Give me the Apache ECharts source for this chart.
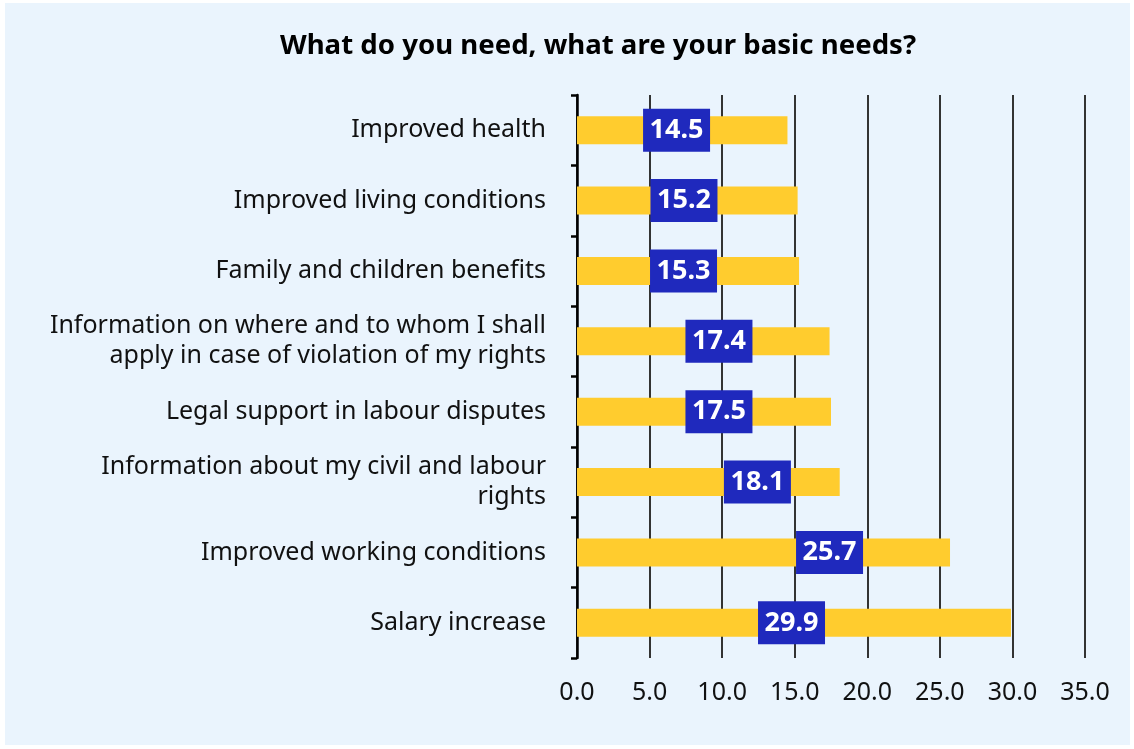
<!DOCTYPE html>
<html>
<head>
<meta charset="utf-8">
<script src="https://cdn.jsdelivr.net/npm/echarts@6/dist/echarts.min.js"></script>
<style>
  html, body { margin: 0; padding: 0; background: #ffffff; }
  #chart { position: absolute; left: 5px; top: 3px; width: 1125px; height: 742px; background: #EAF4FD; }
</style>
</head>
<body>
<div id="chart"></div>
<script>
// Survey answers, top to bottom
const categories = [
  'Improved health',
  'Improved living conditions',
  'Family and children benefits',
  'Information on where and to whom I shall\napply in case of violation of my rights',
  'Legal support in labour disputes',
  'Information about my civil and labour\nrights',
  'Improved working conditions',
  'Salary increase'
];
// Share of respondents, %
const values = [14.5, 15.2, 15.3, 17.4, 17.5, 18.1, 25.7, 29.9];
// Where each value badge sits along the axis (in % units)
const labelAt = [6.86, 7.37, 7.34, 9.78, 9.78, 12.43, 17.4, 14.78];
// Axis ticks
const xTicks = [0, 5, 10, 15, 20, 25, 30, 35];

const chart = echarts.init(document.getElementById('chart'));
const FONT = '"Noto Sans", "Open Sans", sans-serif';

chart.setOption({
  backgroundColor: 'transparent',
  animation: false,
  title: {
    text: 'What do you need, what are your basic needs?',
    left: 270,
    top: 24,
    textStyle: { fontFamily: FONT, fontSize: 27.6, fontWeight: 'bold', color: '#000000' }
  },
  grid: { left: 572, top: 92, width: 508, height: 563, containLabel: false },
  xAxis: {
    type: 'value',
    min: xTicks[0],
    max: xTicks[xTicks.length - 1],
    interval: 5,
    axisLine: { show: false },
    axisTick: { show: false },
    splitLine: { show: true, lineStyle: { color: '#333333', width: 2 } },
    axisLabel: {
      margin: 22,
      fontFamily: FONT,
      fontSize: 25,
      color: '#111111',
      formatter: v => v.toFixed(1)
    }
  },
  yAxis: {
    type: 'category',
    data: categories,
    inverse: true,
    axisLine: { show: true, lineStyle: { color: '#000000', width: 2.5 } },
    axisTick: { show: true, length: 6, lineStyle: { color: '#000000', width: 2.5 } },
    axisLabel: {
      margin: 31,
      fontFamily: FONT,
      fontSize: 25,
      lineHeight: 30,
      color: '#111111',
      align: 'right'
    }
  },
  series: [
    {
      type: 'bar',
      data: values,
      barWidth: 28,
      itemStyle: { color: '#FFCC2E' },
      z: 2
    },
    {
      type: 'scatter',
      data: labelAt.map((x, i) => [x, categories[i]]),
      symbolSize: 0,
      itemStyle: { opacity: 1 },
      z: 5,
      label: {
        show: true,
        position: 'inside',
        formatter: p => values[p.dataIndex].toFixed(1),
        fontFamily: FONT,
        fontSize: 27,
        fontWeight: 'bold',
        color: '#ffffff',
        opacity: 1,
        backgroundColor: '#1F29BD',
        width: 67,
        height: 43,
        lineHeight: 43,
        align: 'center',
        verticalAlign: 'middle'
      },
      emphasis: { disabled: true }
    }
  ]
});
</script>
</body>
</html>
